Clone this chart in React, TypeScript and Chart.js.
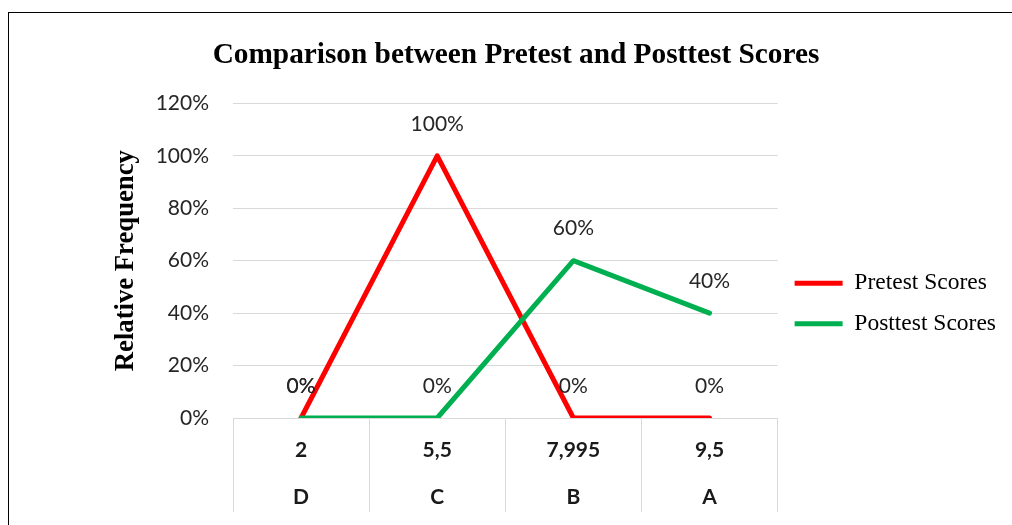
import React, { useEffect, useRef } from "react";
import { Chart, registerables } from "chart.js";

Chart.register(...registerables);

const scoreLabels: string[] = ["2", "5,5", "7,995", "9,5"];
const gradeLabels: string[] = ["D", "C", "B", "A"];
const pretestScores: number[] = [0, 1, 0, 0];
const posttestScores: number[] = [0, 0, 0.6, 0.4];
const seriesNames: string[] = ["Pretest Scores", "Posttest Scores"];
const yMin = 0;
const yMax = 1.2;
const yStep = 0.2;
const titleText = "Comparison between Pretest and Posttest Scores";
const yTitleText = "Relative Frequency";

const pct = (v: number) => `${Math.round(v * 100)}%`;

const dataLabelPlugin = {
  id: "dataLabels",
  afterDatasetsDraw(chart: any) {
    const ctx = chart.ctx;
    ctx.save();
    ctx.font = "21px Lato";
    ctx.fillStyle = "#262626";
    ctx.textAlign = "center";
    ctx.textBaseline = "middle";
    chart.data.datasets.forEach((ds: any, i: number) => {
      const meta = chart.getDatasetMeta(i);
      meta.data.forEach((pt: any, j: number) => {
        ctx.fillText(pct(ds.data[j]), pt.x, pt.y - 32);
      });
    });
    ctx.restore();
  },
};

export default function App() {
  const ref = useRef<HTMLCanvasElement | null>(null);

  useEffect(() => {
    if (!ref.current) return;
    const labels = scoreLabels.map((s, i) => [s, gradeLabels[i]]);
    const chart = new Chart(ref.current, {
      type: "line",
      data: {
        labels,
        datasets: [
          {
            label: seriesNames[0],
            data: pretestScores,
            borderColor: "#ff0000",
            backgroundColor: "#ff0000",
            borderWidth: 5,
            pointRadius: 0,
            pointHoverRadius: 0,
            tension: 0,
            borderCapStyle: "round",
            borderJoinStyle: "round",
            order: 1,
          },
          {
            label: seriesNames[1],
            data: posttestScores,
            borderColor: "#00b050",
            backgroundColor: "#00b050",
            borderWidth: 5,
            pointRadius: 0,
            pointHoverRadius: 0,
            tension: 0,
            borderCapStyle: "round",
            borderJoinStyle: "round",
            order: 0,
          },
        ],
      },
      options: {
        responsive: false,
        animation: false,
        devicePixelRatio: 1,
        layout: { padding: { left: 17, right: 13, top: 0, bottom: 2 } },
        plugins: {
          title: {
            display: true,
            text: titleText,
            color: "#000",
            font: { family: "Liberation Serif", size: 29.3, weight: "bold", lineHeight: 1.2 },
            padding: { top: 24.6, bottom: 30.6 },
          },
          legend: {
            display: true,
            position: "right",
            align: "center",
            labels: {
              usePointStyle: true,
              pointStyle: "line",
              pointStyleWidth: 48,
              padding: 17,
              color: "#000",
              font: { family: "Liberation Serif", size: 23.5, lineHeight: 25 / 23.5 },
              sort: (a: any, b: any) => a.datasetIndex - b.datasetIndex,
            },
          },
          tooltip: { enabled: false },
        },
        scales: {
          x: {
            type: "category",
            offset: true,
            afterFit: (s: any) => {
              s.height = 176;
            },
            grid: {
              offset: true,
              drawOnChartArea: false,
              drawTicks: true,
              tickLength: 94,
              color: "#d9d9d9",
              lineWidth: 1,
            },
            border: { display: true, color: "#d9d9d9" },
            ticks: {
              autoSkip: false,
              maxRotation: 0,
              minRotation: 0,
              padding: -85.5,
              color: "#1a1a1a",
              font: { family: "Lato", size: 21, weight: "bold", lineHeight: 47 / 21 },
            },
          },
          y: {
            min: yMin,
            max: yMax,
            afterFit: (s: any) => {
              s.width = 207;
            },
            ticks: {
              stepSize: yStep,
              padding: 24,
              color: "#262626",
              font: { family: "Lato", size: 21 },
              callback: (v: any) => pct(Number(v)),
            },
            grid: { color: "#d9d9d9", lineWidth: 1, drawTicks: false },
            border: { display: false },
            title: {
              display: true,
              text: yTitleText,
              color: "#000",
              font: { family: "Liberation Serif", size: 26.7, weight: "bold", lineHeight: 1.2 },
              padding: { top: 84, bottom: 0 },
            },
          },
        },
      },
      plugins: [dataLabelPlugin],
    } as any);
    return () => chart.destroy();
  }, []);

  return (
    <div style={{ position: "fixed", left: 0, top: 0, width: 1012, height: 525, overflow: "hidden", background: "#fff" }}>
      <div
        style={{
          position: "absolute",
          left: 8,
          top: 12,
          width: 1100,
          height: 600,
          border: "1px solid #000",
          background: "#fff",
        }}
      >
        <canvas ref={ref} width={1010} height={583} style={{ display: "block", width: 1010, height: 583 }} />
      </div>
    </div>
  );
}
